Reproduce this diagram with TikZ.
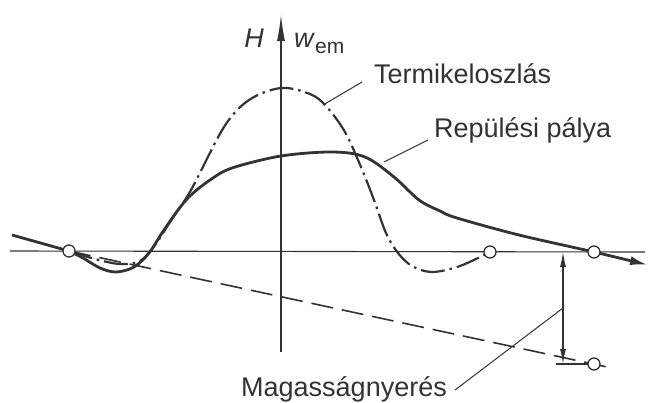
\documentclass[tikz,border=0pt]{standalone}
\usepackage{fontspec}
\setmainfont{Liberation Sans}
\usetikzlibrary{arrows.meta}
\definecolor{ink}{gray}{0.2}
\begin{document}
\begin{tikzpicture}[x=1pt,y=-1pt,
  lbl/.style={font=\fontsize{27}{29}\selectfont, inner sep=0pt, text=ink},
  guide/.style={draw=ink, line width=1.1pt},
  leader/.style={draw=ink, line width=1pt},
  flight/.style={draw=ink, line width=2.8pt},
  thermal/.style={draw=ink, line width=2.2pt, dash pattern=on 24pt off 5pt on 2.5pt off 5pt},
  gain/.style={draw=ink, line width=1.6pt, dash pattern=on 22pt off 9pt},
  pt/.style={circle, draw=ink, fill=white, minimum size=12pt, inner sep=0pt, line width=1.3pt},
]
\useasboundingbox (0,0) rectangle (651,402);
% positions
\coordinate (p1) at (69,251);
\coordinate (p2) at (490,252);
\coordinate (p3) at (594,252);
\coordinate (p4) at (594,364);
\coordinate (hl) at (10,251);
\coordinate (hr) at (645,252);
\coordinate (axb) at (281,352);
\coordinate (axt) at (281,15);
\coordinate (fs) at (12,235);
\coordinate (gend) at (614,368.5);
\coordinate (d1) at (563,252);
\coordinate (d2) at (563,364);
\coordinate (d2l) at (556,364);
% base lines
\draw[guide] (hl) -- (hr);
\draw[guide, -{Latex[length=26pt,width=8pt]}] (axb) -- (axt);
% dashed gain line
\draw[gain] (p1) -- (gend);
% thermal distribution
\draw[thermal] plot[smooth, tension=0.55] coordinates {(p1) (95,259) (120,264) (140,261) (155,245) (170,222) (191,190) (224,127) (249,100) (281,88) (310,94) (326,106) (345,132) (361,167) (374,200) (386,233) (398,253) (412,266) (432,272) (460,266) (p2)};
% flight path
\draw[flight, -{Latex[length=18pt,width=9pt]}] (fs) -- (p1) plot[smooth, tension=0.55] coordinates {(p1) (83,258) (100,268) (116,272) (134,267) (149,253) (162,233) (178,210) (191,195) (210,180) (232,168) (281,156) (332,152) (365,157) (394,177) (419,200) (440,211) (457,218) (519,235) (p3) (648,265)};
% dimension
\draw[guide, {Latex[length=15pt,width=6pt]}-{Latex[length=15pt,width=6pt]}] (d1) -- (d2);
\draw[guide] (d2l) -- (p4);
% points
\node[pt] (c1) at (p1) {};
\node[pt] (c2) at (p2) {};
\node[pt] (c3) at (p3) {};
\node[pt] (c4) at (p4) {};
% labels
\node[lbl, anchor=base] (hlab) at (254,47) {\itshape H};
\node[lbl, anchor=base west] (wlab) at (294,47) {\itshape w\/\raisebox{-6pt}{\upshape\fontsize{21}{22}\selectfont em}};
\node[lbl, anchor=base west] (tlab) at (374,83) {Termikeloszlás};
\node[lbl, anchor=base west] (rlab) at (434,137) {Repülési pálya};
\node[lbl, anchor=base west] (mlab) at (241,396) {Magasságnyerés};
% leaders
\coordinate (tl0) at (323,105);
\coordinate (rl0) at (384,162);
\coordinate (ml0) at (563,308);
\draw[leader] (tl0) -- ([xshift=-12pt,yshift=1pt]tlab.base west);
\draw[leader] (rl0) -- ([xshift=-6pt,yshift=-3pt]rlab.base west);
\draw[leader] (ml0) -- ([xshift=8pt,yshift=6pt]mlab.base east);
\end{tikzpicture}
\end{document}
